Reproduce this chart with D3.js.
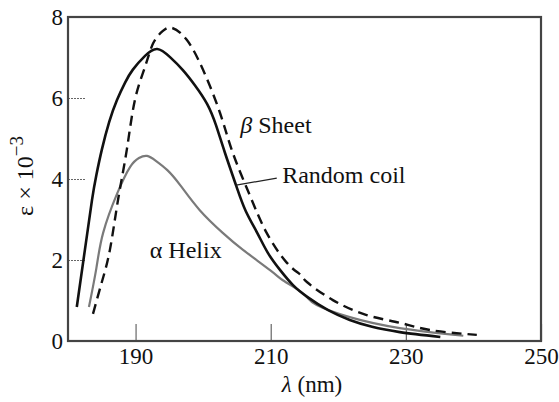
<!DOCTYPE html>
<html>
<head>
<meta charset="utf-8">
<script src="https://cdn.jsdelivr.net/npm/d3@7"></script>
<style>
  html, body { margin: 0; padding: 0; background: #fff; }
  svg { display: block; }
  svg text { font-family: "Liberation Serif", "Tinos", "Times New Roman", "DejaVu Serif", serif !important; fill: #111; }
</style>
</head>
<body>
<svg id="chart" width="559" height="402"></svg>
<script>
// ---- data (wavelength nm, epsilon x 1e-3) ----
const randomCoilX = [181.3,182.5,183.55,184.2,185.0,186.1,187.25,188.45,189.6,191.4,193.2,195.1,197.0,198.8,200.6,201.9,203.2,204.9,206.3,208.0,209.6,211.4,213.3,215.4,218.5,221.7,225.0,229.1,235.1];
const randomCoilY = [0.84,2.25,3.48,4.10,4.72,5.41,5.95,6.38,6.70,7.04,7.21,7.01,6.69,6.31,5.85,5.33,4.66,3.83,3.21,2.67,2.17,1.75,1.38,1.09,0.76,0.52,0.35,0.22,0.10];

const betaSheetX = [183.7,185.0,186.2,187.4,188.7,189.9,191.4,192.6,194.0,195.4,197.6,200.0,202.5,204.4,206.9,209.4,212.4,214.3,215.4,219.2,224.2,229.1,233.6,240.5];
const betaSheetY = [0.67,1.45,2.25,3.48,4.72,5.95,6.77,7.35,7.65,7.73,7.43,6.69,5.63,4.64,3.60,2.67,1.93,1.65,1.45,1.01,0.64,0.45,0.27,0.15];

const alphaHelixX = [183.1,184.2,185.2,187.3,189.2,190.5,191.7,193.0,194.7,196.6,199.5,202.9,205.9,209.9,211.8,213.9,215.4,216.8,221.7,229.1,238.5];
const alphaHelixY = [0.84,1.80,2.67,3.65,4.30,4.52,4.57,4.45,4.22,3.85,3.23,2.67,2.25,1.75,1.50,1.28,1.08,0.89,0.59,0.32,0.13];

const xTicks = [190, 210, 230, 250];
const yTicks = [0, 2, 4, 6, 8];
const xDomain = [180, 250];
const yDomain = [0, 8];

// annotation anchors in data units
const labels = [
  { name: "Sheet", greek: "β", italicGreek: true, x: 205.5, y: 5.14 },
  { name: "Random coil", greek: "", italicGreek: false, x: 211.7, y: 3.90 },
  { name: "Helix", greek: "α", italicGreek: false, x: 192.1, y: 2.05 }
];
const leaderLine = [[204.9, 3.85], [210.9, 4.02]];

// ---- layout ----
const svg = d3.select("#chart");
const mLeft = 68, mRight = 541, mTop = 17, mBottom = 341;
const x = d3.scaleLinear().domain(xDomain).range([mLeft, mRight]);
const y = d3.scaleLinear().domain(yDomain).range([mBottom, mTop]);

// x axis (ticks pointing inward)
const xAxis = svg.append("g").attr("transform", `translate(0,${mBottom})`)
  .call(d3.axisBottom(x).tickValues(xTicks).tickSizeInner(-17).tickSizeOuter(0).tickPadding(7).tickFormat(d3.format("d")));
xAxis.attr("font-family", null);
xAxis.select(".domain").remove();
xAxis.selectAll(".tick line").attr("stroke", "#666").attr("stroke-width", 1.2);
xAxis.selectAll(".tick text").attr("font-size", 23).attr("fill", "#111");

// y axis
const yAxis = svg.append("g").attr("transform", `translate(${mLeft},0)`)
  .call(d3.axisLeft(y).tickValues(yTicks).tickSizeInner(-17).tickSizeOuter(0).tickPadding(5).tickFormat(d3.format("d")));
yAxis.attr("font-family", null);
yAxis.select(".domain").remove();
yAxis.selectAll(".tick line").attr("stroke", "#666").attr("stroke-width", 1.2).attr("stroke-dasharray", "2,1");
yAxis.selectAll(".tick text").attr("font-size", 23).attr("fill", "#111");

// frame
svg.append("rect")
  .attr("x", x(xDomain[0])).attr("y", y(yDomain[1]))
  .attr("width", x(xDomain[1]) - x(xDomain[0]))
  .attr("height", y(yDomain[0]) - y(yDomain[1]))
  .attr("fill", "none").attr("stroke", "#444").attr("stroke-width", 2.2);

// curves
const line = d3.line().x(d => x(d[0])).y(d => y(d[1])).curve(d3.curveNatural);
const zip = (a, b) => a.map((v, i) => [v, b[i]]);

svg.append("path").datum(zip(alphaHelixX, alphaHelixY))
  .attr("d", line).attr("fill", "none").attr("stroke", "#7a7a7a").attr("stroke-width", 2.2);
svg.append("path").datum(zip(betaSheetX, betaSheetY))
  .attr("d", line).attr("fill", "none").attr("stroke", "#111").attr("stroke-width", 2.4)
  .attr("stroke-dasharray", "10,6");
svg.append("path").datum(zip(randomCoilX, randomCoilY))
  .attr("d", line).attr("fill", "none").attr("stroke", "#111").attr("stroke-width", 2.6);

// leader line
svg.append("line")
  .attr("x1", x(leaderLine[0][0])).attr("y1", y(leaderLine[0][1]))
  .attr("x2", x(leaderLine[1][0])).attr("y2", y(leaderLine[1][1]))
  .attr("stroke", "#222").attr("stroke-width", 1.2);

// curve labels
labels.forEach(l => {
  const t = svg.append("text").attr("x", x(l.x)).attr("y", y(l.y)).attr("font-size", 24);
  if (l.greek) {
    t.append("tspan").text(l.greek).style("font-style", l.italicGreek ? "italic" : "normal");
    t.append("tspan").text(" " + l.name);
  } else {
    t.text(l.name);
  }
});

// x axis title
const xt = svg.append("text").attr("x", 312).attr("y", 392).attr("text-anchor", "middle").attr("font-size", 23);
xt.append("tspan").text("λ").style("font-style", "italic");
xt.append("tspan").text(" (nm)");

// y axis title
const yt = svg.append("text").attr("transform", "translate(33,176) rotate(-90)")
  .attr("text-anchor", "middle").attr("font-size", 24);
yt.append("tspan").text("ε × 10");
yt.append("tspan").text("−3").attr("font-size", 19).attr("dy", "-0.55em");
</script>
</body>
</html>
